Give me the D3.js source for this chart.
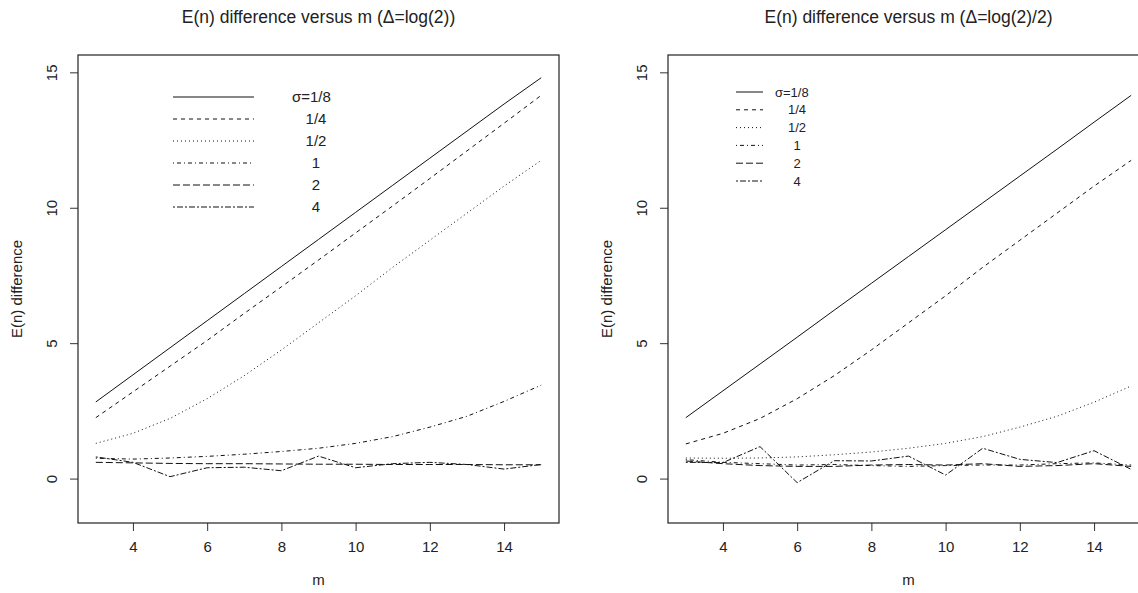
<!DOCTYPE html>
<html>
<head>
<meta charset="utf-8">
<script src="https://cdn.jsdelivr.net/npm/d3@7"></script>
<style>
  html, body { margin: 0; padding: 0; background: #fff; }
  svg { display: block; font-family: "Liberation Sans", Arial, sans-serif; }
</style>
</head>
<body>
<svg id="chart" width="1138" height="593"></svg>
<script>
// ---- data ----
const mValues = [3, 4, 5, 6, 7, 8, 9, 10, 11, 12, 13, 14, 15];
const xTicks = [4, 6, 8, 10, 12, 14];
const yTicks = [0, 5, 10, 15];
const sigmaLabels = ["σ=1/8", "1/4", "1/2", "1", "2", "4"];
const leftTitle = "E(n) difference versus m (Δ=log(2))";
const rightTitle = "E(n) difference versus m (Δ=log(2)/2)";

// Left panel: Δ = log(2)
const leftSigma1_8 = [2.83, 3.83, 4.83, 5.83, 6.83, 7.83, 8.83, 9.83, 10.83, 11.83, 12.83, 13.83, 14.8];
const leftSigma1_4 = [2.25, 3.2, 4.15, 5.1, 6.1, 7.08, 8.07, 9.07, 10.07, 11.08, 12.1, 13.12, 14.15];
const leftSigma1_2 = [1.3, 1.67, 2.22, 2.95, 3.8, 4.75, 5.75, 6.75, 7.8, 8.8, 9.8, 10.8, 11.75];
const leftSigma1   = [0.75, 0.72, 0.76, 0.82, 0.9, 1.0, 1.12, 1.3, 1.55, 1.9, 2.3, 2.85, 3.45];
const leftSigma2   = [0.6, 0.58, 0.56, 0.55, 0.55, 0.54, 0.53, 0.53, 0.52, 0.52, 0.52, 0.51, 0.51];
const leftSigma4   = [0.8, 0.6, 0.07, 0.4, 0.42, 0.29, 0.83, 0.4, 0.55, 0.6, 0.52, 0.35, 0.52];

// Right panel: Δ = log(2)/2
const rightSigma1_8 = [2.25, 3.24, 4.23, 5.22, 6.22, 7.21, 8.2, 9.19, 10.18, 11.17, 12.16, 13.16, 14.15];
const rightSigma1_4 = [1.28, 1.67, 2.22, 2.95, 3.8, 4.75, 5.75, 6.75, 7.8, 8.8, 9.8, 10.8, 11.75];
const rightSigma1_2 = [0.76, 0.75, 0.76, 0.8, 0.88, 0.98, 1.12, 1.3, 1.55, 1.9, 2.3, 2.82, 3.42];
const rightSigma1   = [0.7, 0.6, 0.55, 0.5, 0.52, 0.48, 0.45, 0.48, 0.5, 0.5, 0.55, 0.58, 0.5];
const rightSigma2   = [0.65, 0.55, 0.48, 0.45, 0.45, 0.5, 0.52, 0.5, 0.55, 0.45, 0.48, 0.55, 0.45];
const rightSigma4   = [0.6, 0.59, 1.18, -0.15, 0.66, 0.65, 0.83, 0.13, 1.12, 0.71, 0.59, 1.03, 0.34];

// R-style line types: solid, dashed, dotted, dotdash, longdash, twodash
const dashes = [null, "4,4", "1,3", "1,3,4,3", "7,3", "2,2,6,2"];

const svg = d3.select("#chart");
svg.append("rect").attr("width", 1138).attr("height", 593).attr("fill", "#fff");

function drawPanel(opts) {
  const { left, right, top, bottom, title, series, legend } = opts;
  const g = svg.append("g");
  // R default: 4% extension of xlim [3,15] and ylim [-1,15]
  const x = d3.scaleLinear().domain([2.52, 15.48]).range([left, right]);
  const y = d3.scaleLinear().domain([-1.64, 15.64]).range([bottom, top]);

  // title
  g.append("text")
    .attr("x", (left + right) / 2).attr("y", 23)
    .attr("text-anchor", "middle")
    .attr("font-size", 17.5)
    .attr("fill", "#222")
    .text(title);

  // x axis ticks
  const xAxis = d3.axisBottom(x).tickValues(xTicks).tickSize(8).tickPadding(10).tickFormat(d3.format("d"));
  const xg = g.append("g").attr("transform", `translate(0,${bottom})`).call(xAxis);
  xg.select(".domain").remove();
  xg.selectAll("line").attr("stroke", "#333");
  xg.selectAll("text").attr("font-size", 15).attr("fill", "#222")
    .attr("font-family", "Liberation Sans, Arial, sans-serif");

  // y axis ticks (labels parallel to axis)
  const yAxis = d3.axisLeft(y).tickValues(yTicks).tickSize(8).tickFormat(d3.format("d"));
  const yg = g.append("g").attr("transform", `translate(${left},0)`).call(yAxis);
  yg.select(".domain").remove();
  yg.selectAll("line").attr("stroke", "#333");
  yg.selectAll("text").remove();
  yg.selectAll(".tick").append("text")
    .attr("transform", "translate(-26,0) rotate(-90)")
    .attr("text-anchor", "middle")
    .attr("dy", "0.35em")
    .attr("font-size", 15)
    .attr("fill", "#222")
    .attr("font-family", "Liberation Sans, Arial, sans-serif")
    .text(d => d);

  // axis labels
  g.append("text")
    .attr("x", (left + right) / 2).attr("y", 585)
    .attr("text-anchor", "middle").attr("font-size", 15).attr("fill", "#222")
    .text("m");
  g.append("text")
    .attr("transform", `translate(${left - 56},${(top + bottom) / 2}) rotate(-90)`)
    .attr("text-anchor", "middle").attr("font-size", 15).attr("fill", "#222")
    .text("E(n) difference");

  // lines
  const line = d3.line().x((d, i) => x(mValues[i])).y(d => y(d));
  series.forEach((s, k) => {
    g.append("path")
      .datum(s)
      .attr("d", line)
      .attr("fill", "none")
      .attr("stroke", "#111")
      .attr("stroke-width", 1)
      .attr("stroke-dasharray", dashes[k]);
  });

  // box
  g.append("rect")
    .attr("x", left).attr("y", top)
    .attr("width", right - left).attr("height", bottom - top)
    .attr("fill", "none").attr("stroke", "#222").attr("stroke-width", 1.2);

  // legend
  const lg = g.append("g");
  sigmaLabels.forEach((lab, k) => {
    const yy = legend.y0 + k * legend.dy;
    lg.append("line")
      .attr("x1", legend.x1).attr("x2", legend.x2)
      .attr("y1", yy).attr("y2", yy)
      .attr("stroke", "#111").attr("stroke-width", 1)
      .attr("stroke-dasharray", dashes[k]);
    lg.append("text")
      .attr("x", k === 0 ? legend.tx0 : legend.tx)
      .attr("y", yy)
      .attr("dy", "0.35em")
      .attr("text-anchor", k === 0 ? "start" : "middle")
      .attr("font-size", legend.fs)
      .attr("fill", "#222")
      .text(lab);
  });
}

drawPanel({
  left: 78, right: 559, top: 55, bottom: 523,
  title: leftTitle,
  series: [leftSigma1_8, leftSigma1_4, leftSigma1_2, leftSigma1, leftSigma2, leftSigma4],
  legend: { x1: 173, x2: 254, y0: 97, dy: 22, tx0: 292, tx: 316, fs: 15 }
});

drawPanel({
  left: 668, right: 1149, top: 55, bottom: 523,
  title: rightTitle,
  series: [rightSigma1_8, rightSigma1_4, rightSigma1_2, rightSigma1, rightSigma2, rightSigma4],
  legend: { x1: 736, x2: 763, y0: 92, dy: 17.8, tx0: 775, tx: 797, fs: 13 }
});
</script>
</body>
</html>
